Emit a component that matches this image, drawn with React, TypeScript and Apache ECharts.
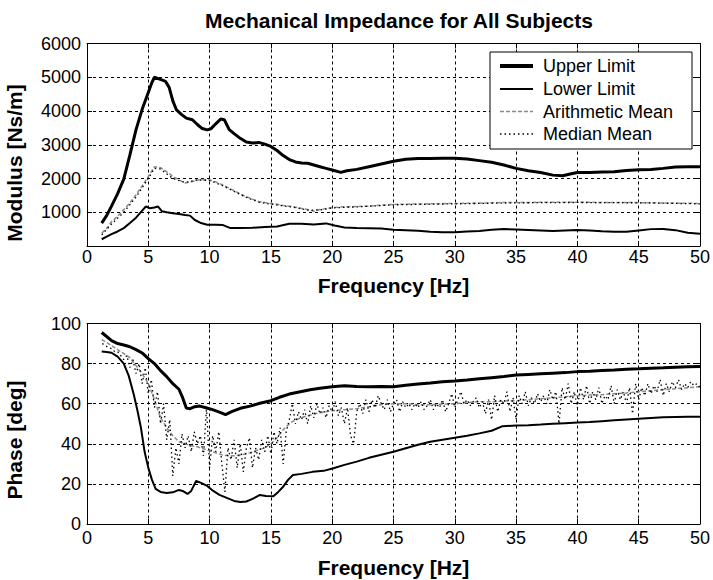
import React, { useEffect, useRef } from "react";
import * as echarts from "echarts";

// ---------- Tick labels / axes ----------
const freqTicks = [0, 5, 10, 15, 20, 25, 30, 35, 40, 45, 50];
const titleText = "Mechanical Impedance for All Subjects";
const xName = "Frequency [Hz]";
const magName = "Modulus [Ns/m]";
const phaseName = "Phase [deg]";
const seriesNames = ["Upper Limit", "Lower Limit", "Arithmetic Mean", "Median Mean"];

// ---------- Modulus (top) ----------
const magUpperFreq = [1.2, 1.6, 2.0, 2.5, 3.0, 3.5, 4.0, 4.5, 5.0, 5.3, 5.5, 5.8, 6.1, 6.4, 6.7, 7.0, 7.3, 7.7, 8.1, 8.6, 9.0, 9.4, 9.8, 10.1, 10.5, 10.9, 11.2, 11.6, 12.0, 12.5, 13.0, 13.5, 14.0, 14.5, 15.0, 15.5, 16.0, 16.5, 17.0, 17.5, 18.0, 18.5, 19.0, 19.5, 20.0, 20.7, 21.2, 22.0, 23.0, 24.0, 25.0, 26.0, 27.0, 28.0, 29.0, 30.0, 31.0, 32.0, 33.0, 34.0, 35.0, 36.0, 37.0, 38.0, 38.8, 39.5, 40.0, 41.0, 42.0, 43.0, 44.0, 45.0, 46.0, 47.0, 48.0, 49.0, 50.0];
const magUpper = [680, 900, 1180, 1550, 1980, 2700, 3450, 4050, 4550, 4850, 5000, 4960, 4920, 4880, 4700, 4300, 4030, 3900, 3790, 3740, 3600, 3480, 3440, 3470, 3620, 3760, 3740, 3450, 3330, 3190, 3080, 3050, 3070, 3020, 2950, 2830, 2680, 2560, 2490, 2460, 2450, 2400, 2350, 2300, 2250, 2180, 2230, 2270, 2350, 2430, 2510, 2570, 2590, 2590, 2600, 2600, 2580, 2530, 2480, 2400, 2300, 2230, 2180, 2100, 2080, 2140, 2180, 2180, 2190, 2200, 2240, 2260, 2270, 2300, 2340, 2350, 2350];

const magLowerFreq = [1.2, 1.6, 2.0, 2.5, 3.0, 3.5, 4.0, 4.5, 4.8, 5.1, 5.5, 5.8, 6.1, 6.5, 7.0, 7.5, 8.0, 8.4, 8.8, 9.3, 9.8, 10.5, 11.1, 11.7, 12.5, 13.5, 14.5, 15.5, 16.5, 17.5, 18.5, 19.5, 20.2, 21.0, 22.0, 23.0, 24.0, 25.0, 26.0, 27.0, 28.0, 29.0, 30.0, 31.0, 32.0, 33.0, 34.0, 35.0, 36.0, 37.0, 38.0, 39.0, 40.0, 41.0, 42.0, 43.0, 44.0, 45.0, 46.0, 47.0, 48.0, 49.0, 50.0];
const magLower = [200, 280, 350, 430, 530, 680, 840, 1050, 1170, 1120, 1140, 1170, 1030, 1000, 970, 950, 920, 900, 770, 680, 630, 630, 620, 530, 530, 540, 560, 580, 660, 660, 640, 670, 610, 550, 530, 525, 520, 480, 470, 450, 420, 405, 410, 430, 445, 480, 505, 490, 475, 460, 445, 460, 475, 460, 440, 425, 420, 460, 500, 505, 470, 390, 360];

const magMeanFreq = [1.2, 1.6, 2.0, 2.5, 3.0, 3.5, 4.0, 4.5, 5.0, 5.5, 6.0, 6.5, 7.0, 7.5, 8.0, 8.5, 9.0, 9.5, 10.0, 10.5, 11.0, 11.5, 12.0, 12.5, 13.0, 13.5, 14.0, 14.5, 15.0, 15.5, 16.0, 16.5, 17.0, 18.0, 18.5, 19.0, 19.5, 20.0, 21.0, 22.0, 23.0, 24.0, 25.0, 26.0, 28.0, 30.0, 32.0, 34.0, 36.0, 38.0, 40.0, 42.0, 44.0, 46.0, 48.0, 50.0];
const magMean = [380, 520, 720, 880, 1080, 1280, 1520, 1780, 2060, 2350, 2320, 2200, 2060, 1960, 1870, 1900, 1950, 1970, 1960, 1900, 1820, 1730, 1640, 1540, 1460, 1390, 1320, 1290, 1260, 1240, 1200, 1180, 1150, 1080, 1030, 1080, 1110, 1140, 1160, 1170, 1180, 1210, 1230, 1240, 1250, 1260, 1270, 1290, 1290, 1300, 1300, 1290, 1290, 1280, 1270, 1260];

const magMedianFreq = [1.2, 2.0, 3.0, 4.0, 5.0, 5.5, 6.0, 7.0, 8.0, 9.0, 10.0, 11.0, 12.0, 13.0, 14.0, 15.0, 16.0, 17.0, 18.0, 19.0, 20.0, 22.0, 25.0, 30.0, 35.0, 40.0, 45.0, 50.0];
const magMedian = [330, 650, 1000, 1450, 2000, 2300, 2280, 2000, 1880, 1960, 1940, 1800, 1620, 1440, 1300, 1240, 1190, 1140, 1060, 1070, 1130, 1160, 1220, 1250, 1280, 1290, 1280, 1250];

// ---------- Phase (bottom) ----------
const phaseUpperFreq = [1.2, 1.6, 2.0, 2.5, 3.0, 3.5, 4.0, 4.5, 5.0, 5.5, 6.0, 6.5, 7.0, 7.5, 7.8, 8.1, 8.4, 8.8, 9.2, 9.7, 10.3, 10.8, 11.3, 11.8, 12.5, 13.3, 14.1, 15.0, 15.7, 16.5, 17.4, 18.2, 19.0, 20.0, 21.0, 22.0, 23.0, 24.0, 25.0, 26.0, 27.0, 28.0, 29.0, 30.0, 31.0, 32.0, 33.0, 34.0, 35.0, 36.0, 37.0, 38.0, 39.0, 40.0, 41.0, 42.0, 43.0, 44.0, 45.0, 46.0, 47.0, 48.0, 49.0, 50.0];
const phaseUpper = [95.5, 93.5, 91.5, 90, 89.3, 88.4, 87, 85.3, 82.5, 80, 76.5, 73.5, 70, 67.2, 63, 57.8, 57.5, 58.5, 58.8, 58, 56.9, 55.8, 54.6, 56, 57.7, 58.8, 60.2, 61.5, 63.2, 64.8, 66, 67, 67.7, 68.5, 69, 68.6, 68.5, 68.6, 68.5, 69.2, 69.8, 70.3, 70.9, 71.3, 71.8, 72.4, 73, 73.6, 74.3, 74.6, 74.9, 75.2, 75.5, 76, 76.2, 76.5, 76.8, 77.2, 77.4, 77.7, 77.9, 78.2, 78.4, 78.5];

const phaseLowerFreq = [1.2, 1.6, 2.0, 2.5, 3.0, 3.4, 3.8, 4.1, 4.4, 4.7, 5.0, 5.3, 5.6, 6.0, 6.5, 7.0, 7.5, 7.8, 8.2, 8.5, 8.9, 9.3, 9.8, 10.3, 10.8, 11.4, 12.0, 12.5, 13.0, 13.5, 14.1, 14.6, 15.2, 15.6, 16.0, 16.4, 16.8, 17.5, 18.4, 19.3, 20.1, 21.0, 22.0, 23.0, 24.0, 25.0, 26.0, 27.0, 28.0, 29.0, 30.0, 31.0, 32.0, 33.0, 33.9, 35.0, 36.0, 37.0, 38.0, 39.0, 40.0, 41.0, 42.0, 43.0, 44.0, 45.0, 46.0, 47.0, 48.0, 49.0, 50.0];
const phaseLower = [86, 85.8, 85.4, 83.5, 80, 74, 65, 57, 48, 36, 28, 22, 17.5, 16, 15.5, 15.8, 17, 16.5, 15, 16.5, 21.5, 20.5, 19, 16.5, 14.5, 13, 11.5, 11, 11.2, 12.5, 14.5, 14, 13.8, 16, 18.6, 22, 24.4, 25, 26, 26.5, 27.8, 29.5, 31.1, 33, 34.5, 36, 37.8, 39.5, 41, 42, 43, 44, 45.2, 46.5, 48.8, 49.1, 49.3, 49.6, 50, 50.3, 50.6, 50.9, 51.3, 51.7, 52.1, 52.5, 52.9, 53.2, 53.4, 53.5, 53.5];

const phaseMeanFreq = [1.2, 1.6, 2.0, 2.5, 3.0, 3.5, 4.0, 4.5, 5.0, 5.5, 6.0, 6.5, 7.0, 7.5, 8.0, 8.5, 9.0, 9.5, 10.0, 10.5, 11.0, 11.5, 12.0, 12.5, 13.0, 13.5, 14.0, 14.5, 15.0, 15.5, 16.0, 16.5, 17.0, 17.5, 18.0, 19.0, 20.0, 21.0, 22.0, 23.0, 24.0, 25.0, 26.0, 27.0, 28.0, 29.0, 30.0, 31.0, 32.0, 33.0, 34.0, 35.0, 36.0, 37.0, 38.0, 39.0, 40.0, 41.0, 42.0, 43.0, 44.0, 45.0, 46.0, 47.0, 48.0, 49.0, 50.0];
const phaseMean = [92, 90.5, 89, 87, 85, 83, 79, 75, 70, 62, 53, 48, 44, 41, 40, 39, 38.5, 37.5, 36.5, 35.5, 34.5, 34, 34, 34.5, 35, 36, 37, 38, 40, 43, 47, 50, 52, 53, 54, 55.5, 56.5, 57, 57.5, 58.5, 59.5, 60, 60, 59.5, 59.5, 59.8, 60, 60.5, 61, 61, 61.3, 61.5, 62, 62.5, 63, 63.5, 64, 64.3, 64.5, 65, 65.3, 66, 66.5, 67, 67.5, 68, 68.5];

// median sampled every 0.25 Hz starting at 1.25 Hz
const phaseMedianStart = 1.25;
const phaseMedianStep = 0.25;
const phaseMedian = [
  90, 89, 88, 87.5, 86, 86, 84, 82, 84, 78, 82, 75, 80, 70, 78, 65,
  72, 58, 66, 50, 60, 42, 52, 24, 38, 30, 45, 38, 44, 36, 46, 40,
  44, 34, 58, 28, 44, 36, 46, 30, 16, 38, 32, 42, 28, 40, 26, 38,
  43, 28, 38, 32, 42, 36, 44, 35, 46, 40, 48, 30, 46, 52, 60, 50,
  56, 52, 57, 50, 59, 53, 60, 55, 58, 53, 59, 56, 61, 54, 58, 50,
  58, 44, 40, 56, 60, 55, 62, 56, 62, 58, 64, 60, 57, 62, 56, 60,
  62, 56, 61, 58, 60, 57, 60, 58, 61, 57, 59, 62, 57, 60, 58, 62,
  56, 60, 65, 58, 62, 66, 60, 62, 59, 61, 63, 58, 61, 55, 62, 52,
  64, 56, 62, 60, 66, 56, 63, 52, 64, 60, 66, 59, 63, 60, 65, 61,
  64, 60, 67, 62, 66, 50, 68, 62, 70, 60, 66, 58, 68, 62, 69, 60,
  66, 62, 68, 60, 64, 62, 69, 60, 67, 62, 66, 60, 68, 55, 70, 62,
  68, 64, 70, 65, 69, 66, 72, 64, 70, 66, 71, 68, 72, 67, 70, 68,
  71, 69, 70, 68
];

const zip = (f: number[], v: number[]) => f.map((x, i) => [x, v[i]]);
const phaseMedianData = phaseMedian.map((v, i) => [phaseMedianStart + i * phaseMedianStep, v]);

const FONT = "'Liberation Sans', Arial, Helvetica, sans-serif";

const upperStyle = { color: "#000", width: 3, type: "solid" as any };
const lowerStyle = { color: "#000", width: 2, type: "solid" as any };
const meanStyle = { color: "#8a8a8a", width: 1.5, type: [4, 2] as any };
const medianStyle = { color: "#000", width: 1.3, type: [1.5, 3] as any };
const legendStyles = [upperStyle, lowerStyle, meanStyle, medianStyle];

export default function App() {
  const ref = useRef<HTMLDivElement>(null);
  useEffect(() => {
    if (!ref.current) return;
    const chart = echarts.init(ref.current, undefined, { renderer: "svg" });

    const gridLine = { show: true, lineStyle: { color: "#000", type: [3, 3] as any, width: 1 } };
    const axisLine = { show: true, onZero: false, lineStyle: { color: "#000", width: 1 } };
    const tick = { show: true, inside: true, length: 5, lineStyle: { color: "#000" } };
    const labelStyle = { color: "#000", fontSize: 18, fontFamily: FONT };

    const mkX = (gridIndex: number, labelMargin: number, nameGap: number) => [
      {
        type: "value", gridIndex, min: 0, max: 50, interval: 5, position: "bottom",
        axisLine, axisTick: tick, splitLine: gridLine,
        axisLabel: { ...labelStyle, margin: labelMargin, formatter: (v: number) => (freqTicks.includes(v) ? String(v) : "") },
        name: xName, nameLocation: "middle", nameGap,
        nameTextStyle: { color: "#000", fontSize: 21, fontWeight: "bold", fontFamily: FONT },
      },
      {
        type: "value", gridIndex, min: 0, max: 50, interval: 5, position: "top",
        axisLine, axisTick: tick, splitLine: { show: false }, axisLabel: { show: false },
      },
    ];
    const mkY = (gridIndex: number, max: number, interval: number, hideZero: boolean) => [
      {
        type: "value", gridIndex, min: 0, max, interval, position: "left",
        axisLine, axisTick: tick, splitLine: gridLine,
        axisLabel: { ...labelStyle, margin: 6, formatter: (v: number) => (hideZero && v === 0 ? "" : String(v)) },
      },
      {
        type: "value", gridIndex, min: 0, max, interval, position: "right",
        axisLine, axisTick: tick, splitLine: { show: false }, axisLabel: { show: false },
      },
    ];

    const mk = (name: string, data: number[][], style: any, axis: number, z: number) => ({
      name, type: "line", data, xAxisIndex: axis, yAxisIndex: axis, showSymbol: false, symbol: "none",
      lineStyle: style, itemStyle: { color: style.color }, z, silent: true,
    });

    // legend box drawn as graphic
    const lgX = 490, lgY = 52, lgW = 202, lgH = 97;
    const rowY = [66, 89, 111.5, 134];
    const legendEls: any[] = [
      { type: "rect", shape: { x: lgX, y: lgY, width: lgW, height: lgH }, style: { fill: "#fff", stroke: "#000", lineWidth: 1 }, z: 100 },
    ];
    seriesNames.forEach((n, i) => {
      const s = legendStyles[i];
      legendEls.push({
        type: "line", shape: { x1: lgX + 10, y1: rowY[i], x2: lgX + 43, y2: rowY[i] },
        style: { stroke: s.color, lineWidth: i === 0 ? 4 : s.width, lineDash: Array.isArray(s.type) ? s.type : null },
        z: 101,
      });
      legendEls.push({
        type: "text", x: lgX + 53, y: rowY[i],
        style: { text: n, fill: "#000", font: `18px ${FONT}`, align: "left", verticalAlign: "middle", textAlign: "left", textVerticalAlign: "middle" },
        z: 101,
      });
    });

    chart.setOption({
      animation: false,
      backgroundColor: "#fff",
      title: {
        text: titleText, left: 394, top: 5, textAlign: "center",
        textStyle: { color: "#000", fontSize: 21, fontWeight: "bold", fontFamily: FONT },
      },
      grid: [
        { left: 87, right: 12, top: 43.5, height: 202.5 },
        { left: 87, right: 12, top: 323.5, height: 200.5 },
      ],
      xAxis: [...mkX(0, 2, 29), ...mkX(1, 5, 33)],
      yAxis: [...mkY(0, 6000, 1000, true), ...mkY(1, 100, 20, false)],
      graphic: [
        {
          type: "text", x: 14, y: 163, rotation: Math.PI / 2,
          style: { text: magName, fill: "#000", font: `bold 21px ${FONT}`, align: "center", verticalAlign: "middle", textAlign: "center", textVerticalAlign: "middle" },
        },
        {
          type: "text", x: 14, y: 440, rotation: Math.PI / 2,
          style: { text: phaseName, fill: "#000", font: `bold 21px ${FONT}`, align: "center", verticalAlign: "middle", textAlign: "center", textVerticalAlign: "middle" },
        },
        ...legendEls,
      ],
      series: [
        mk(seriesNames[2], zip(magMeanFreq, magMean), meanStyle, 0, 2),
        mk(seriesNames[3], zip(magMedianFreq, magMedian), medianStyle, 0, 3),
        mk(seriesNames[1], zip(magLowerFreq, magLower), lowerStyle, 0, 4),
        mk(seriesNames[0], zip(magUpperFreq, magUpper), upperStyle, 0, 5),
        mk(seriesNames[2], zip(phaseMeanFreq, phaseMean), meanStyle, 2, 2),
        mk(seriesNames[3], phaseMedianData, medianStyle, 2, 3),
        mk(seriesNames[1], zip(phaseLowerFreq, phaseLower), lowerStyle, 2, 4),
        mk(seriesNames[0], zip(phaseUpperFreq, phaseUpper), upperStyle, 2, 5),
      ],
    });
    return () => chart.dispose();
  }, []);
  return (
    <div
      ref={ref}
      style={{ position: "fixed", left: 0, top: 0, width: 713, height: 580, background: "#fff" }}
    />
  );
}
